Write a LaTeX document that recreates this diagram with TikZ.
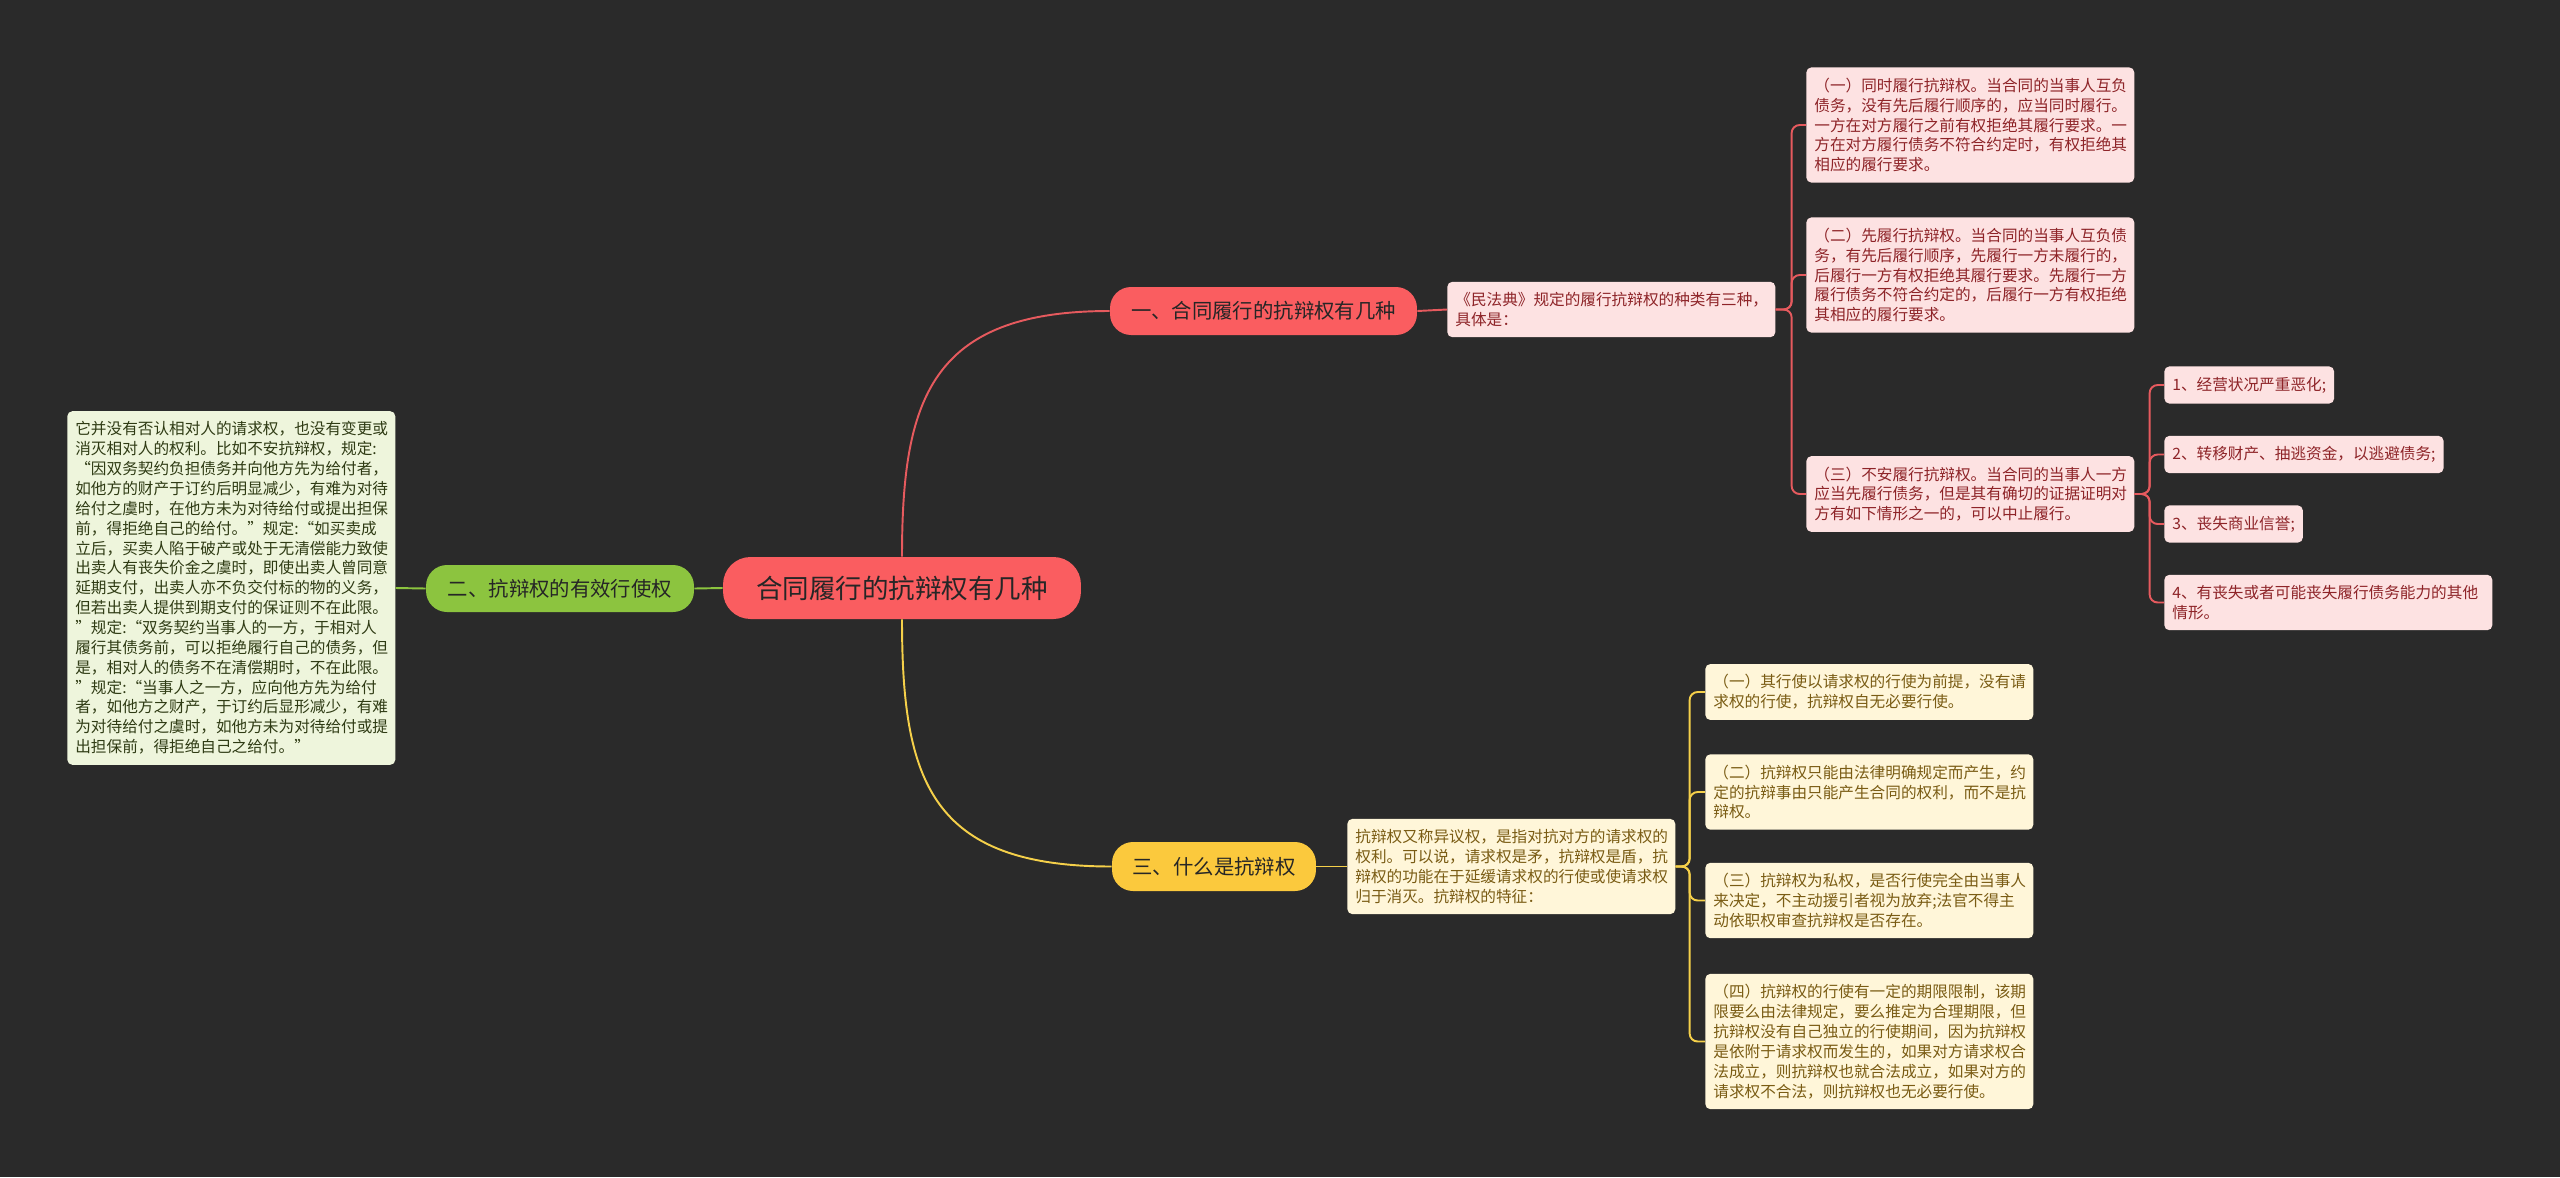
\documentclass[tikz,border=0pt]{standalone}
\usepackage{fontspec}
\setmainfont{Noto Sans CJK SC}
\usepackage{xcolor}
\usepackage{tikz}
\usetikzlibrary{positioning}
\definecolor{shubg}{HTML}{2A2A2A}
\definecolor{shured}{HTML}{FA5D60}
\definecolor{shuredline}{HTML}{E65A5E}
\definecolor{shugreen}{HTML}{8CC43F}
\definecolor{shuyellow}{HTML}{FBC93D}
\definecolor{shuyellowline}{HTML}{F5D04A}
\definecolor{shupink}{HTML}{FDE2E2}
\definecolor{shupinktext}{HTML}{8E2428}
\definecolor{shulime}{HTML}{EEF5DC}
\definecolor{shulimetext}{HTML}{2F3B14}
\definecolor{shucream}{HTML}{FFF6D9}
\definecolor{shucreamtext}{HTML}{7A5C14}

\begin{document}
\begin{tikzpicture}[x=0.02cm,y=-0.02cm,
  pill/.style={rounded corners=0.42cm,inner sep=0pt,text=black!85,font=\fontsize{11.6}{14}\selectfont},
  card/.style={anchor=west,rounded corners=0.1cm,inner xsep=0.16cm,inner ysep=0.21cm,align=left,font=\fontsize{8.9}{11.3}\selectfont},
  wide/.style={card,text width=6.24cm},
  redcard/.style={fill=shupink,text=shupinktext},
  limecard/.style={fill=shulime,text=shulimetext},
  creamcard/.style={fill=shucream,text=shucreamtext},
  redline/.style={draw=shuredline,line width=1.1pt},
  greenline/.style={draw=shugreen,line width=1.1pt},
  yellowline/.style={draw=shuyellowline,line width=1.1pt},
  bracket/.style={rounded corners=0.16cm}
]
\fill[shubg] (0,0) rectangle (2560,1177);
\useasboundingbox (0,0) rectangle (2560,1177);

\node[pill,fill=shured,rounded corners=0.55cm,minimum width=7.16cm,minimum height=1.24cm,font=\fontsize{15.1}{18}\selectfont] (root) at (902,588) {合同履行的抗辩权有几种};
\node[pill,fill=shured,minimum width=6.14cm,minimum height=0.96cm] (one) at (1263.5,311) {一、合同履行的抗辩权有几种};
\node[pill,fill=shugreen,minimum width=5.36cm,minimum height=0.94cm] (two) at (560,588.5) {二、抗辩权的有效行使权};
\node[pill,fill=shuyellow,minimum width=4.08cm,minimum height=0.98cm] (three) at (1214,866.5) {三、什么是抗辩权};

\node[wide,redcard] (kind) at (1447,309.5) {《民法典》规定的履行抗辩权的种类有三种，\\具体是：};
\node[wide,redcard] (p1) at (1806,125) {（一）同时履行抗辩权。当合同的当事人互负\\债务，没有先后履行顺序的，应当同时履行。\\一方在对方履行之前有权拒绝其履行要求。一\\方在对方履行债务不符合约定时，有权拒绝其\\相应的履行要求。};
\node[wide,redcard] (p2) at (1806,275) {（二）先履行抗辩权。当合同的当事人互负债\\务，有先后履行顺序，先履行一方未履行的，\\后履行一方有权拒绝其履行要求。先履行一方\\履行债务不符合约定的，后履行一方有权拒绝\\其相应的履行要求。};
\node[wide,redcard] (p3) at (1806,494) {（三）不安履行抗辩权。当合同的当事人一方\\应当先履行债务，但是其有确切的证据证明对\\方有如下情形之一的，可以中止履行。};
\node[card,redcard] (s1) at (2164,385) {1、经营状况严重恶化;};
\node[card,redcard] (s2) at (2164,454.5) {2、转移财产、抽逃资金，以逃避债务;};
\node[card,redcard] (s3) at (2164,524) {3、丧失商业信誉;};
\node[wide,redcard] (s4) at (2164,602.5) {4、有丧失或者可能丧失履行债务能力的其他\\情形。};

\node[wide,limecard] (effect) at (67,588) {它并没有否认相对人的请求权，也没有变更或\\消灭相对人的权利。比如不安抗辩权，规定:\\“因双务契约负担债务并向他方先为给付者，\\如他方的财产于订约后明显减少，有难为对待\\给付之虞时，在他方未为对待给付或提出担保\\前，得拒绝自己的给付。”规定:“如买卖成\\立后，买卖人陷于破产或处于无清偿能力致使\\出卖人有丧失价金之虞时，即使出卖人曾同意\\延期支付，出卖人亦不负交付标的物的义务，\\但若出卖人提供到期支付的保证则不在此限。\\”规定:“双务契约当事人的一方，于相对人\\履行其债务前，可以拒绝履行自己的债务，但\\是，相对人的债务不在清偿期时，不在此限。\\”规定:“当事人之一方，应向他方先为给付\\者，如他方之财产，于订约后显形减少，有难\\为对待给付之虞时，如他方未为对待给付或提\\出担保前，得拒绝自己之给付。”};

\node[wide,creamcard] (def) at (1347,866.5) {抗辩权又称异议权，是指对抗对方的请求权的\\权利。可以说，请求权是矛，抗辩权是盾，抗\\辩权的功能在于延缓请求权的行使或使请求权\\归于消灭。抗辩权的特征：};
\node[wide,creamcard] (q1) at (1705,692) {（一）其行使以请求权的行使为前提，没有请\\求权的行使，抗辩权自无必要行使。};
\node[wide,creamcard] (q2) at (1705,792) {（二）抗辩权只能由法律明确规定而产生，约\\定的抗辩事由只能产生合同的权利，而不是抗\\辩权。};
\node[wide,creamcard] (q3) at (1705,900.5) {（三）抗辩权为私权，是否行使完全由当事人\\来决定，不主动援引者视为放弃;法官不得主\\动依职权审查抗辩权是否存在。};
\node[wide,creamcard] (q4) at (1705,1041.5) {（四）抗辩权的行使有一定的期限限制，该期\\限要么由法律规定，要么推定为合理期限，但\\抗辩权没有自己独立的行使期间，因为抗辩权\\是依附于请求权而发生的，如果对方请求权合\\法成立，则抗辩权也就合法成立，如果对方的\\请求权不合法，则抗辩权也无必要行使。};

\draw[redline] (root.north) .. controls (902,400) and (930,311) .. (one.west);
\draw[yellowline] (root.south) .. controls (902,780) and (930,866.5) .. (three.west);
\draw[greenline] (two.east) -- (root.west);
\draw[greenline] (effect.east) -- (two.west);
\draw[redline] (one.east) -- (kind.west);
\draw[yellowline] (three.east) -- (def.west);
\foreach \c in {p1,p2,p3}{\draw[redline,bracket] (kind.east) -- ++(16,0) |- (\c.west);}
\foreach \c in {s1,s2,s3,s4}{\draw[redline,bracket] (p3.east) -- ++(15,0) |- (\c.west);}
\foreach \c in {q1,q2,q3,q4}{\draw[yellowline,bracket] (def.east) -- ++(14,0) |- (\c.west);}
\end{tikzpicture}
\end{document}
